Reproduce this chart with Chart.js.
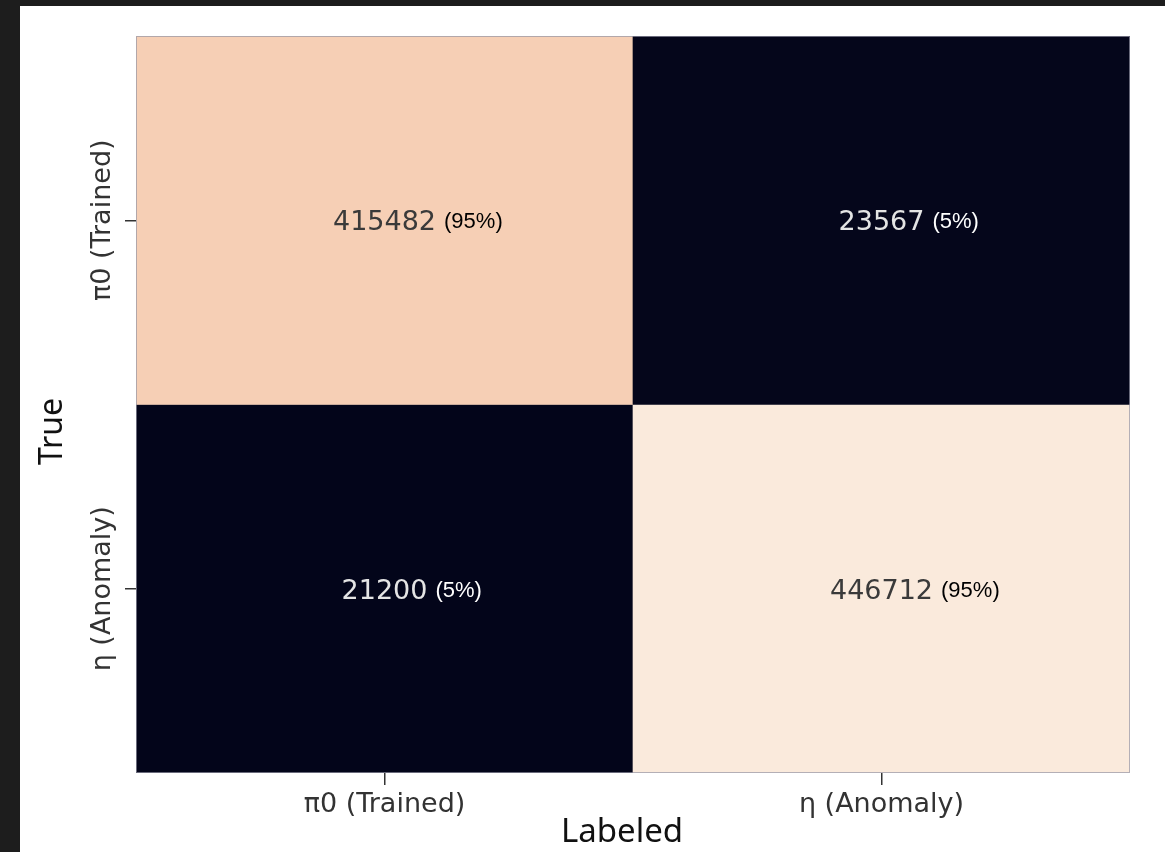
<!DOCTYPE html>
<html>
<head>
<meta charset="utf-8">
<script src="https://cdn.jsdelivr.net/npm/chart.js@4"></script>
<style>
  html, body { margin: 0; padding: 0; }
  body { width: 1165px; height: 852px; background: #1d1d1d; position: relative; overflow: hidden; }
  #panel { position: absolute; left: 20px; top: 6px; right: 0; bottom: 0; background: #fff; }
  #chart { position: absolute; left: 0; top: 0; }
</style>
</head>
<body>
<div id="panel"></div>
<canvas id="chart" width="1165" height="852"></canvas>
<script>
// confusion matrix: rows = true class, columns = labeled class
const classLabels = ['π0 (Trained)', 'η (Anomaly)'];
const rowTrained = [415482, 23567];
const rowAnomaly = [21200, 446712];
const xTitle = 'Labeled';
const yTitle = 'True';

const rows = [rowTrained, rowAnomaly];
const allCounts = rows.flat();
const vmin = Math.min(...allCounts);
const vmax = Math.max(...allCounts);

// rocket-like colour ramp
const rampStops = [
    [0.00, [3, 5, 26]],
    [0.25, [112, 31, 87]],
    [0.50, [225, 51, 66]],
    [0.75, [243, 118, 81]],
    [0.92, [246, 205, 177]],
    [1.00, [250, 234, 220]]
];

function rampColor(v) {
    const t = (v - vmin) / (vmax - vmin);
    for (let i = 1; i < rampStops.length; i++) {
        const [t1, c1] = rampStops[i];
        const [t0, c0] = rampStops[i - 1];
        if (t <= t1) {
            const f = (t - t0) / (t1 - t0);
            const c = c0.map((a, k) => Math.round(a + (c1[k] - a) * f));
            return `rgb(${c[0]},${c[1]},${c[2]})`;
        }
    }
    return 'rgb(250,234,220)';
}

function isDark(v) {
    return (v - vmin) / (vmax - vmin) < 0.5;
}

// each true-class row is a floating band on the y axis (top row = first class)
const datasets = rows.map((counts, r) => ({
    label: classLabels[r],
    data: counts.map(() => [rows.length - 1 - r, rows.length - r]),
    backgroundColor: counts.map(rampColor),
    borderWidth: 0,
    barPercentage: 1,
    categoryPercentage: 1,
    grouped: false
}));

const cellText = {
    id: 'cellText',
    afterDraw(chart) {
        const { ctx, chartArea: a, scales: { x, y } } = chart;
        ctx.save();

        // thin outline round the matrix
        ctx.strokeStyle = 'rgba(150,150,165,0.7)';
        ctx.lineWidth = 1;
        ctx.strokeRect(a.left + 0.5, a.top + 0.5, a.right - a.left - 1, a.bottom - a.top - 1);

        rows.forEach((counts, r) => {
            const rowSum = counts.reduce((s, v) => s + v, 0);
            const cy = y.getPixelForValue(rows.length - r - 0.5);
            counts.forEach((v, c) => {
                const cx = x.getPixelForValue(c);
                const dark = isDark(v);
                const num = String(v);
                const pct = `(${Math.round(v / rowSum * 100)}%)`;

                ctx.textBaseline = 'alphabetic';
                ctx.font = '27px "DejaVu Sans"';
                ctx.fillStyle = dark ? '#e4e4e4' : '#3a3a3a';
                ctx.textAlign = 'center';
                ctx.fillText(num, cx, cy + 10);
                const w = ctx.measureText(num).width;

                ctx.font = '22px "Liberation Sans"';
                ctx.fillStyle = dark ? '#ffffff' : '#000000';
                ctx.textAlign = 'left';
                ctx.fillText(pct, cx + w / 2 + 8, cy + 8);
            });
        });

        // y tick labels, reading upward
        ctx.font = '27px "DejaVu Sans"';
        ctx.fillStyle = '#333333';
        ctx.textAlign = 'center';
        ctx.textBaseline = 'alphabetic';
        classLabels.forEach((lab, r) => {
            const cy = y.getPixelForValue(rows.length - r - 0.5);
            ctx.save();
            ctx.translate(a.left - 26, cy);
            ctx.rotate(-Math.PI / 2);
            ctx.fillText(lab, 0, 0);
            ctx.restore();
        });

        // axis titles
        ctx.font = '33px "Noto Sans"';
        ctx.fillStyle = '#111111';
        ctx.fillText(xTitle, (a.left + a.right) / 2 - 11, a.bottom + 69);
        ctx.save();
        ctx.translate(62, (a.top + a.bottom) / 2 + 27);
        ctx.rotate(-Math.PI / 2);
        ctx.font = '32px "Noto Sans"';
        ctx.fillText(yTitle, 0, 0);
        ctx.restore();

        ctx.restore();
    }
};

new Chart(document.getElementById('chart'), {
    type: 'bar',
    data: { labels: classLabels, datasets },
    options: {
        responsive: false,
        animation: false,
        devicePixelRatio: 1,
        layout: { padding: { top: 36, right: 35, left: 0, bottom: 0 } },
        plugins: { legend: { display: false }, tooltip: { enabled: false } },
        scales: {
            x: {
                type: 'category',
                offset: true,
                border: { display: false },
                grid: { offset: false, drawOnChartArea: false, drawTicks: true, tickLength: 12, color: '#333', lineWidth: 1.5 },
                ticks: { font: { family: 'DejaVu Sans', size: 27 }, color: '#333', padding: 4, maxRotation: 0 },
                afterFit: s => { s.height = 79; }
            },
            y: {
                type: 'linear',
                min: 0,
                max: rows.length,
                border: { display: false },
                grid: { drawOnChartArea: false, drawTicks: true, tickLength: 11, color: '#333', lineWidth: 1.5 },
                ticks: { color: 'rgba(0,0,0,0)', callback: () => '' },
                afterBuildTicks: s => { s.ticks = [{ value: 0.5 }, { value: 1.5 }]; },
                afterFit: s => { s.width = 136; }
            }
        }
    },
    plugins: [cellText]
});
</script>
</body>
</html>
